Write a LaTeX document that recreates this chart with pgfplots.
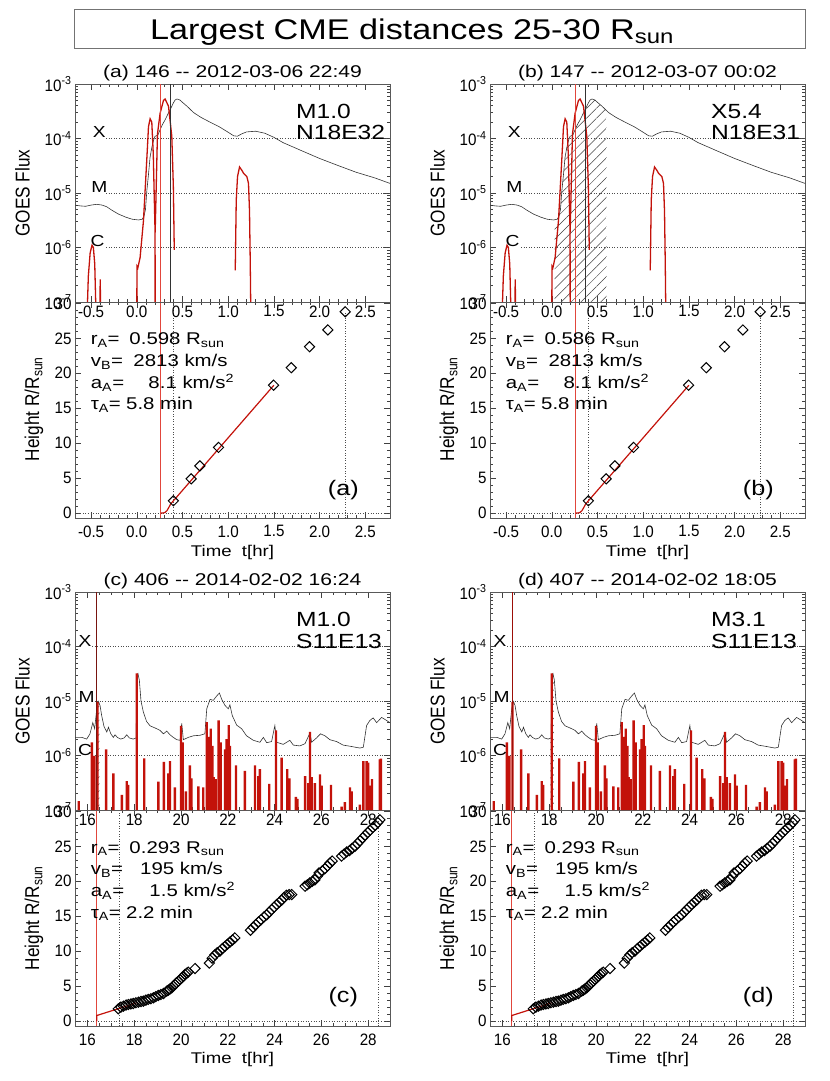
\documentclass[border=0pt]{standalone}
\usepackage{fontspec}
\setmainfont{Liberation Sans}
\newfontfamily\wf[FakeStretch=1.2]{Liberation Sans}
\newfontfamily\wfa[FakeStretch=1.24]{Liberation Sans}
\newfontfamily\nf[FakeStretch=0.92]{Liberation Sans}
\newfontfamily\yf[FakeStretch=0.86]{Liberation Sans}
\usepackage{pgfplots}
\pgfplotsset{compat=1.18}
\usepackage{pgfplotstable}
\usetikzlibrary{patterns.meta}
\definecolor{fred}{RGB}{195,18,10}
\definecolor{lred}{RGB}{225,70,60}
\definecolor{dgray}{RGB}{50,50,50}
\definecolor{dred}{RGB}{120,20,15}
\newcommand{\tf}[1]{\wf\fontsize{#1}{#1}\selectfont}
\newcommand{\tfa}[1]{\wfa\fontsize{#1}{#1}\selectfont}
\newcommand{\nfs}[1]{\nf\fontsize{#1}{#1}\selectfont}
\newcommand{\yfs}[1]{\yf\fontsize{#1}{#1}\selectfont}

\pgfplotstableread{
h f
-0.676 6.0e-6
-0.62 5.8e-6
-0.56 5.7e-6
-0.5 6.0e-6
-0.44 6.2e-6
-0.38 6.0e-6
-0.33 5.6e-6
-0.27 4.8e-6
-0.2 4.1e-6
-0.12 3.6e-6
-0.05 3.3e-6
0.02 3.2e-6
0.06 3.3e-6
0.08 3.8e-6
0.095 5.0e-6
0.11 1.1e-5
0.128 2.2e-5
0.145 4.5e-5
0.164 6.8e-5
0.185 9.5e-5
0.2 1.1e-4
0.23 1.15e-4
0.255 1.45e-4
0.28 1.8e-4
0.31 2.2e-4
0.34 2.8e-4
0.37 3.5e-4
0.40 4.5e-4
0.42 5.1e-4
0.44 5.3e-4
0.47 5.1e-4
0.5 4.6e-4
0.55 3.9e-4
0.62 3.0e-4
0.7 2.45e-4
0.8 2.0e-4
0.9 1.65e-4
1.0 1.3e-4
1.06 1.12e-4
1.1 1.1e-4
1.15 1.22e-4
1.2 1.32e-4
1.3 1.36e-4
1.4 1.25e-4
1.5 1.05e-4
1.6 8.4e-5
1.8 6.0e-5
2.0 4.3e-5
2.2 3.2e-5
2.4 2.4e-5
2.6 1.9e-5
2.77 1.5e-5
}\goesAB

\pgfplotstableread{
h f
-0.545 5e-8
-0.53 3e-7
-0.51 8e-7
-0.49 1.1e-6
-0.475 1.0e-6
-0.46 5e-7
-0.445 5e-8
nan nan
-0.405 5e-8
-0.4 2.6e-7
-0.395 5e-8
nan nan
0.0 5e-8
0.002 4.5e-7
0.011 4.2e-7
0.036 6.5e-7
0.073 3.1e-6
0.109 4.0e-5
0.128 1.65e-4
0.146 2.3e-4
0.164 2.0e-4
0.18 5.4e-5
0.2 1.9e-6
0.201 5e-8
nan nan
0.201 1.9e-6
0.226 1.2e-4
0.255 2.9e-4
0.292 5.0e-4
0.31 5.3e-4
0.347 3.9e-4
0.383 1.1e-4
0.40 1.3e-5
0.41 9e-7
nan nan
1.077 3.8e-7
1.088 7.4e-6
1.102 2.0e-5
1.124 3.0e-5
1.15 2.6e-5
1.168 2.3e-5
1.204 2.0e-5
1.222 1.5e-5
1.233 4.7e-6
1.241 5.6e-7
1.248 5e-8
}\redAB

\pgfplotstableread{
h f
0.03 1e-7
0.03 3.2e-6
0.06 3.3e-6
0.08 3.8e-6
0.095 5.0e-6
0.11 1.1e-5
0.128 2.2e-5
0.145 4.5e-5
0.164 6.8e-5
0.185 9.5e-5
0.2 1.1e-4
0.23 1.15e-4
0.255 1.45e-4
0.28 1.8e-4
0.31 2.2e-4
0.34 2.8e-4
0.37 3.5e-4
0.40 4.5e-4
0.42 5.1e-4
0.44 5.3e-4
0.47 5.1e-4
0.5 4.6e-4
0.55 3.9e-4
0.6 3.2e-4
0.6 1e-7
}\hatchB

\pgfplotstableread{
h r
0.40 1.76
0.595 4.9
0.69 6.75
0.894 9.4
1.496 18.3
1.69 20.8
1.89 23.8
2.09 26.2
2.28 28.8
}\htAB

\pgfplotstableread{
h r
0.263 0
0.29 0.02
0.31 0.1
0.33 0.35
0.35 0.8
0.37 1.3
1.5 18.3
}\fitAB

\pgfplotstableread{
h f
15.47 2.15e-6
15.76 2.15e-6
15.97 2.0e-6
16.11 2.5e-6
16.23 4.0e-6
16.31 3.1e-6
16.40 7.2e-6
16.47 9.8e-6
16.54 8.3e-6
16.61 5.4e-6
16.71 3.4e-6
16.83 2.7e-6
16.90 3.3e-6
17.0 2.5e-6
17.11 2.15e-6
17.18 2.4e-6
17.28 2.15e-6
17.42 2.0e-6
17.57 2.1e-6
17.68 2.4e-6
17.79 2.1e-6
17.96 2.0e-6
18.08 2.1e-6
18.12 3.0e-5
18.16 3.2e-5
18.22 2.4e-5
18.29 1.0e-5
18.39 6.3e-6
18.53 4.2e-6
18.68 3.5e-6
18.89 3.2e-6
19.10 2.9e-6
19.25 2.5e-6
19.39 2.8e-6
19.53 2.4e-6
19.67 2.15e-6
19.82 1.95e-6
19.96 1.9e-6
20.03 3.9e-6
20.10 1.95e-6
20.31 2.15e-6
20.53 2.3e-6
20.81 2.35e-6
21.02 2.5e-6
21.10 7.2e-6
21.24 1.07e-5
21.38 1.03e-5
21.52 1.23e-5
21.64 1.4e-5
21.74 1.07e-5
21.88 8.3e-6
22.02 7.2e-6
22.09 8.5e-6
22.19 5.4e-6
22.38 3.6e-6
22.59 3.1e-6
22.80 2.3e-6
23.09 1.9e-6
23.37 1.75e-6
23.52 2.15e-6
23.66 1.72e-6
23.87 1.8e-6
24.01 3.55e-6
24.09 1.75e-6
24.37 1.6e-6
24.65 1.9e-6
24.80 1.55e-6
25.08 1.5e-6
25.30 1.65e-6
25.51 2.6e-6
25.58 1.75e-6
25.79 2.1e-6
25.96 2.5e-6
26.15 2.3e-6
26.36 1.95e-6
26.65 1.8e-6
26.93 1.55e-6
27.22 1.48e-6
27.64 1.37e-6
27.79 1.42e-6
27.93 3.55e-6
28.07 4.4e-6
28.21 4.9e-6
28.36 4.0e-6
28.57 5.0e-6
28.71 4.6e-6
28.93 4.0e-6
}\goesCD

\pgfplotstableread{
h f
15.63 1.45e-7
16.19 1.74e-6
16.24 7.9e-7
16.30 9.8e-7
16.43 9.5e-6
16.80 1.3e-6
17.11 4.7e-7
17.47 1.9e-7
17.68 3.4e-7
17.74 2.9e-7
18.11 3.2e-5
18.43 8.9e-7
19.03 3.3e-7
19.27 7.6e-7
19.46 4.7e-7
19.53 7.9e-7
19.74 2.6e-7
20.0 3.5e-6
20.07 1.74e-6
20.21 2.2e-7
20.38 6.6e-7
20.44 3.8e-7
20.74 2.7e-7
20.95 2.6e-7
21.10 4.1e-6
21.17 2.2e-6
21.27 3.1e-6
21.34 1.5e-6
21.40 4e-7
21.48 3.7e-7
21.61 4.4e-6
21.69 1.74e-6
21.88 1.3e-6
21.95 2.0e-6
22.04 3.6e-6
22.09 1.5e-6
22.35 6.6e-7
22.73 5.2e-7
23.16 6.6e-7
23.30 4.2e-7
23.37 5.6e-7
23.77 3e-7
24.06 2.9e-6
24.30 9.1e-7
24.54 5.6e-7
24.63 3.8e-7
24.91 1.74e-7
24.97 1.6e-7
25.30 4.2e-7
25.44 3.1e-7
25.51 2.7e-6
25.58 4.0e-7
25.72 3.1e-7
25.94 4.5e-7
26.01 2.8e-7
26.41 2.9e-7
26.86 1.15e-7
27.0 1.4e-7
27.22 2.6e-7
27.29 2.2e-7
27.64 1.25e-7
27.79 7.9e-7
27.93 7.9e-7
28.0 7.4e-7
28.07 2.8e-7
28.16 3.7e-7
28.50 8.5e-7
28.54 8.8e-7
}\redCD

\pgfplotstableread{
h f
16.37 1e-7
16.37 5.0e-6
16.40 7.2e-6
16.47 9.8e-6
16.51 9.0e-6
16.51 1e-7
}\hatchC

\pgfplotstableread{
h f
18.05 1e-7
18.05 2.0e-6
18.08 2.1e-6
18.12 3.0e-5
18.16 3.2e-5
18.20 2.6e-5
18.20 1e-7
}\hatchD

\pgfplotstableread{
h r
17.32 1.76
17.43 2.0
17.54 2.14
17.65 2.3
17.75 2.38
17.86 2.45
17.96 2.52
18.07 2.62
18.18 2.71
18.29 2.8
18.39 2.86
18.5 3.0
18.6 3.1
18.71 3.2
18.82 3.33
18.92 3.5
19.03 3.67
19.14 3.8
19.25 3.95
19.39 4.29
19.46 4.43
19.53 4.6
19.6 4.76
19.67 5.0
19.74 5.24
19.81 5.5
19.89 5.71
19.96 5.95
20.03 6.19
20.1 6.4
20.17 6.67
20.24 6.85
20.31 7.0
20.6 7.52
21.21 8.3
21.33 9.0
21.45 9.5
21.55 9.8
21.66 10.0
21.77 10.4
21.88 10.7
21.98 11.0
22.09 11.3
22.2 11.6
22.3 11.9
22.97 13.0
23.08 13.4
23.2 13.8
23.31 14.2
23.42 14.5
23.54 14.9
23.66 15.2
23.77 15.6
23.87 15.95
23.98 16.3
24.09 16.7
24.2 17.0
24.3 17.3
24.4 17.7
24.5 18.0
24.62 18.1
24.73 18.1
25.3 19.3
25.4 19.5
25.5 19.76
25.61 20.0
25.72 20.2
25.82 20.7
25.9 21.2
26.04 21.5
26.15 21.8
26.26 22.2
26.36 22.6
26.46 22.9
26.86 23.6
26.97 23.9
27.08 24.2
27.2 24.4
27.31 24.7
27.43 25.0
27.54 25.4
27.65 25.8
27.76 26.2
27.87 26.6
27.98 27.0
28.08 27.3
28.19 27.7
28.3 28.0
28.41 28.4
28.5 28.8
}\htCD

\pgfplotstableread{
h r
16.4 0
16.4 0.8
18.1 2.6
}\fitCD

\pgfplotsset{
  myBase/.style={
    scale only axis, width=315bp,
    axis line style={line width=0.6bp, black!65},
    tick style={line width=0.5bp, black!75},
    major tick length=6bp, minor tick length=3bp,
    xtick pos=both, ytick pos=both,
    tick label style={font=\nfs{16.5bp}},
  },
  myGoes/.style={myBase, height=218bp, ymin=1e-7, ymax=1e-3,
    ytick={1e-7,1e-6,1e-5,1e-4,1e-3},
    yticklabels={10\textsuperscript{-7},10\textsuperscript{-6},10\textsuperscript{-5},10\textsuperscript{-4},10\textsuperscript{-3}},
  },
  myHt/.style={myBase, height=216bp, ymin=-0.7, ymax=30.2,
    ytick={0,5,10,15,20,25,30}, minor y tick num=4,
    xticklabel style={yshift=-4bp},
  },
  myXab/.style={xmin=-0.676, xmax=2.77, xtick={-0.5,0,0.5,1,1.5,2,2.5},
    xticklabels={-0.5,0.0,0.5,1.0,1.5,2.0,2.5}, minor x tick num=4},
  myXcd/.style={xmin=15.47, xmax=28.93, xtick={16,18,20,22,24,26,28}, minor x tick num=3},
  blk/.style={dgray, line width=0.6bp},
  rc/.style={fred, line width=1.3bp, unbounded coords=jump},
  gl/.style={black!70, dotted, line width=0.6bp},
  dia/.style={only marks, mark=square, mark size=3.6bp, mark options={rotate=45, black, line width=1bp, fill=none}},
}

\begin{document}
\begin{tikzpicture}
\path[use as bounding box] (0,0) rectangle (830bp,1081bp);
% Title
\draw[black!55, line width=0.8bp] (74bp,1033bp) rectangle (805bp,1072bp);
\node[anchor=base west, font=\tf{28.5bp}, inner sep=0] at (150bp,1041bp) {Largest CME distances 25-30 R\textsubscript{sun}};

% ===== Height (a)
\begin{axis}[myHt, myXab, anchor=south west, at={(75bp,563bp)}, /pgf/number format/assume math mode=true]
\addplot[gl] coordinates {(-0.676,0) (2.77,0)};
\addplot[gl] coordinates {(0.40,-0.7) (0.40,30.2)};
\addplot[gl] coordinates {(2.28,-0.7) (2.28,28.8)};
\addplot[lred, line width=0.7bp] coordinates {(0.263,-0.7) (0.263,30.2)};
\addplot[fred, line width=1.2bp] table[x=h,y=r] {\fitAB};
\addplot[dia] table[x=h,y=r] {\htAB};
\end{axis}
% ===== GOES (a)
\begin{axis}[ymode=log, myGoes, myXab, anchor=south west, at={(75bp,779bp)}, /pgf/number format/assume math mode=true]
\addplot[gl] coordinates {(-0.336,1e-4) (2.77,1e-4)};
\addplot[gl] coordinates {(-0.336,1e-5) (2.77,1e-5)};
\addplot[gl] coordinates {(-0.336,1e-6) (2.77,1e-6)};
\addplot[blk] table[x=h,y=f] {\goesAB};
\addplot[rc] table[x=h,y=f] {\redAB};
\addplot[lred, line width=0.7bp] coordinates {(0.263,1e-7) (0.263,1e-3)};
\addplot[dgray, line width=0.6bp] coordinates {(0.365,1e-7) (0.365,1e-3)};
\node[font=\tf{16bp}] at (axis cs:-0.41,1.3e-4) {X};
\node[font=\tf{16bp}] at (axis cs:-0.41,1.3e-5) {M};
\node[font=\tf{16bp}] at (axis cs:-0.43,1.3e-6) {C};
\end{axis}

% ===== Height (b)
\begin{axis}[myHt, myXab, anchor=south west, at={(490bp,563bp)}, /pgf/number format/assume math mode=true]
\addplot[gl] coordinates {(-0.676,0) (2.77,0)};
\addplot[gl] coordinates {(0.40,-0.7) (0.40,30.2)};
\addplot[gl] coordinates {(2.28,-0.7) (2.28,28.8)};
\addplot[lred, line width=0.7bp] coordinates {(0.263,-0.7) (0.263,30.2)};
\addplot[fred, line width=1.2bp] table[x=h,y=r] {\fitAB};
\addplot[dia] table[x=h,y=r] {\htAB};
\end{axis}
% ===== GOES (b)
\begin{axis}[ymode=log, myGoes, myXab, anchor=south west, at={(490bp,779bp)}, /pgf/number format/assume math mode=true]
\addplot[draw=none, pattern={Lines[angle=45,distance=7bp,line width=0.5bp]}, pattern color=black!75] table[x=h,y=f] {\hatchB};
\addplot[gl] coordinates {(-0.336,1e-4) (2.77,1e-4)};
\addplot[gl] coordinates {(-0.336,1e-5) (2.77,1e-5)};
\addplot[gl] coordinates {(-0.336,1e-6) (2.77,1e-6)};
\addplot[blk] table[x=h,y=f] {\goesAB};
\addplot[rc] table[x=h,y=f] {\redAB};
\addplot[lred, line width=0.7bp] coordinates {(0.263,1e-7) (0.263,1e-3)};
\addplot[dgray, line width=0.6bp] coordinates {(0.365,1e-7) (0.365,1e-3)};
\node[font=\tf{16bp}] at (axis cs:-0.41,1.3e-4) {X};
\node[font=\tf{16bp}] at (axis cs:-0.41,1.3e-5) {M};
\node[font=\tf{16bp}] at (axis cs:-0.43,1.3e-6) {C};
\end{axis}

% ===== Height (c)
\begin{axis}[myHt, myXcd, anchor=south west, at={(75bp,55bp)}, /pgf/number format/assume math mode=true]
\addplot[gl] coordinates {(15.47,0) (28.93,0)};
\addplot[gl] coordinates {(17.37,-0.7) (17.37,30.2)};
\addplot[gl] coordinates {(28.41,-0.7) (28.41,30.2)};
\addplot[lred, line width=0.7bp] coordinates {(16.4,-0.7) (16.4,30.2)};
\addplot[fred, line width=1.2bp] table[x=h,y=r] {\fitCD};
\addplot[dia] table[x=h,y=r] {\htCD};
\end{axis}
% ===== GOES (c)
\begin{axis}[ymode=log, log origin y=infty, myGoes, myXcd, anchor=south west, at={(75bp,271bp)}, /pgf/number format/assume math mode=true]
\addplot[draw=none, pattern={Lines[angle=45,distance=5bp,line width=0.5bp]}, pattern color=black!75] table[x=h,y=f] {\hatchC};
\addplot[gl] coordinates {(16.2,1e-4) (28.93,1e-4)};
\addplot[gl] coordinates {(16.2,1e-5) (28.93,1e-5)};
\addplot[gl] coordinates {(16.2,1e-6) (28.93,1e-6)};
\addplot[blk] table[x=h,y=f] {\goesCD};
\addplot[ybar, bar width=2.4bp, bar shift=0pt, fill=fred, draw=none] table[x=h,y=f] {\redCD};
\addplot[dred, line width=1bp] coordinates {(16.41,1e-7) (16.41,1e-3)};
\node[font=\tf{16bp}] at (axis cs:15.9,1.27e-4) {X};
\node[font=\tf{16bp}] at (axis cs:15.97,1.2e-5) {M};
\node[font=\tf{16bp}] at (axis cs:15.9,1.24e-6) {C};
\end{axis}

% ===== Height (d)
\begin{axis}[myHt, myXcd, anchor=south west, at={(490bp,55bp)}, /pgf/number format/assume math mode=true]
\addplot[gl] coordinates {(15.47,0) (28.93,0)};
\addplot[gl] coordinates {(17.37,-0.7) (17.37,30.2)};
\addplot[gl] coordinates {(28.41,-0.7) (28.41,30.2)};
\addplot[lred, line width=0.7bp] coordinates {(16.4,-0.7) (16.4,30.2)};
\addplot[fred, line width=1.2bp] table[x=h,y=r] {\fitCD};
\addplot[dia] table[x=h,y=r] {\htCD};
\end{axis}
% ===== GOES (d)
\begin{axis}[ymode=log, log origin y=infty, myGoes, myXcd, anchor=south west, at={(490bp,271bp)}, /pgf/number format/assume math mode=true]
\addplot[draw=none, pattern={Lines[angle=45,distance=5bp,line width=0.5bp]}, pattern color=black!75] table[x=h,y=f] {\hatchD};
\addplot[gl] coordinates {(16.2,1e-4) (28.93,1e-4)};
\addplot[gl] coordinates {(16.2,1e-5) (28.93,1e-5)};
\addplot[gl] coordinates {(16.2,1e-6) (28.93,1e-6)};
\addplot[blk] table[x=h,y=f] {\goesCD};
\addplot[ybar, bar width=2.4bp, bar shift=0pt, fill=fred, draw=none] table[x=h,y=f] {\redCD};
\addplot[fred!80!black, line width=0.9bp] coordinates {(16.43,1e-7) (16.43,1e-3)};
\node[font=\tf{16bp}] at (axis cs:15.9,1.27e-4) {X};
\node[font=\tf{16bp}] at (axis cs:15.97,1.2e-5) {M};
\node[font=\tf{16bp}] at (axis cs:15.9,1.24e-6) {C};
\end{axis}

% ===== panel titles
\node[anchor=base, font=\tfa{17bp}, inner sep=0] at (232.5bp,1003.7bp) {(a) 146 -- 2012-03-06 22:49};
\node[anchor=base, font=\tfa{17bp}, inner sep=0] at (647.5bp,1003.7bp) {(b) 147 -- 2012-03-07 00:02};
\node[anchor=base, font=\tfa{17bp}, inner sep=0] at (232.5bp,495.3bp) {(c) 406 -- 2014-02-02 16:24};
\node[anchor=base, font=\tfa{17bp}, inner sep=0] at (647.5bp,495.3bp) {(d) 407 -- 2014-02-02 18:05};

% ===== flare annotations
\foreach \dx/\cl/\loc/\by in {0/M1.0/N18E32/0, 415/X5.4/N18E31/0, 0/M1.0/S11E13/508.5, 415/M3.1/S11E13/508.5}{
  \node[anchor=base west, font=\tf{20.5bp}, inner sep=0] at ({(296+\dx)*1bp},{(962.7-\by)*1bp}) {\cl};
  \node[anchor=base west, font=\tf{20.5bp}, inner sep=0] at ({(296+\dx)*1bp},{(941-\by)*1bp}) {\loc};
}

% ===== fit parameter text
\foreach \dx/\ra/\lab in {0/0.598/a, 415/0.586/b}{
  \node[anchor=base west, font=\tf{17bp}, inner sep=0] at ({(90.7+\dx)*1bp},736bp) {r\textsubscript{A}=};
  \node[anchor=base west, font=\tf{17bp}, inner sep=0] at ({(129.3+\dx)*1bp},736bp) {\ra\ R\textsubscript{sun}};
  \node[anchor=base west, font=\tf{17bp}, inner sep=0] at ({(90.7+\dx)*1bp},714.3bp) {v\textsubscript{B}=};
  \node[anchor=base west, font=\tf{17bp}, inner sep=0] at ({(133.3+\dx)*1bp},714.3bp) {2813 km/s};
  \node[anchor=base west, font=\tf{17bp}, inner sep=0] at ({(90.7+\dx)*1bp},692bp) {a\textsubscript{A}=};
  \node[anchor=base west, font=\tf{17bp}, inner sep=0] at ({(148.3+\dx)*1bp},692bp) {8.1 km/s\textsuperscript{2}};
  \node[anchor=base west, font=\tf{17bp}, inner sep=0] at ({(90.7+\dx)*1bp},671bp) {τ\textsubscript{A}=};
  \node[anchor=base west, font=\tf{17bp}, inner sep=0] at ({(126+\dx)*1bp},671bp) {5.8 min};
  \node[font=\tf{21bp}] at ({(343.3+\dx)*1bp},591bp) {(\lab)};
}
\foreach \dx/\lab in {0/c, 415/d}{
  \node[anchor=base west, font=\tf{17bp}, inner sep=0] at ({(90.7+\dx)*1bp},227.7bp) {r\textsubscript{A}=};
  \node[anchor=base west, font=\tf{17bp}, inner sep=0] at ({(129.3+\dx)*1bp},227.7bp) {0.293 R\textsubscript{sun}};
  \node[anchor=base west, font=\tf{17bp}, inner sep=0] at ({(90.7+\dx)*1bp},206bp) {v\textsubscript{B}=};
  \node[anchor=base west, font=\tf{17bp}, inner sep=0] at ({(140+\dx)*1bp},206bp) {195 km/s};
  \node[anchor=base west, font=\tf{17bp}, inner sep=0] at ({(90.7+\dx)*1bp},184.3bp) {a\textsubscript{A}=};
  \node[anchor=base west, font=\tf{17bp}, inner sep=0] at ({(149.3+\dx)*1bp},184.3bp) {1.5 km/s\textsuperscript{2}};
  \node[anchor=base west, font=\tf{17bp}, inner sep=0] at ({(90.7+\dx)*1bp},162.7bp) {τ\textsubscript{A}=};
  \node[anchor=base west, font=\tf{17bp}, inner sep=0] at ({(126+\dx)*1bp},162.7bp) {2.2 min};
  \node[font=\tf{21bp}] at ({(343.3+\dx)*1bp},84.3bp) {(\lab)};
}

% ===== axis titles
\foreach \dx in {0,415}{
  \node[rotate=90, font=\yfs{20bp}] at ({(22.5+\dx)*1bp},888bp) {GOES Flux};
  \node[rotate=90, font=\yfs{20bp}] at ({(22.5+\dx)*1bp},379.5bp) {GOES Flux};
  \node[rotate=90, font=\yfs{20bp}] at ({(34+\dx)*1bp},672bp) {Height R/R\textsubscript{sun}};
  \node[rotate=90, font=\yfs{20bp}] at ({(34+\dx)*1bp},163bp) {Height R/R\textsubscript{sun}};
  \node[font=\tf{15.5bp}] at ({(232.5+\dx)*1bp},529bp) {Time\ \ t[hr]};
  \node[font=\tf{15.5bp}] at ({(232.5+\dx)*1bp},21.7bp) {Time\ \ t[hr]};
}
\end{tikzpicture}
\end{document}
